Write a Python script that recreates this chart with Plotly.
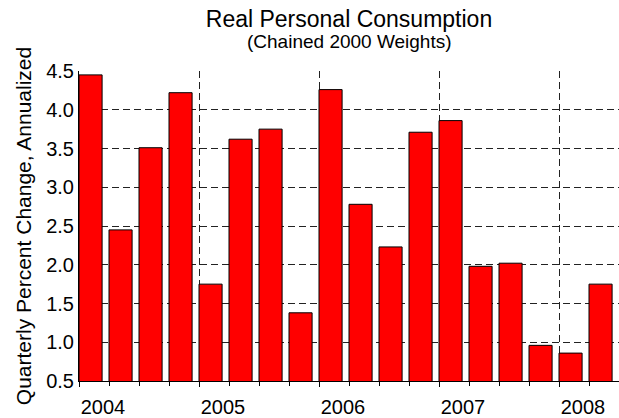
import plotly.graph_objects as go

# quarterly data, 2004Q1 - 2008Q2
quarters = ["2004Q1", "2004Q2", "2004Q3", "2004Q4",
            "2005Q1", "2005Q2", "2005Q3", "2005Q4",
            "2006Q1", "2006Q2", "2006Q3", "2006Q4",
            "2007Q1", "2007Q2", "2007Q3", "2007Q4",
            "2008Q1", "2008Q2"]
pct_change = [4.45, 2.45, 3.51, 4.22,
              1.75, 3.62, 3.75, 1.38,
              4.26, 2.78, 2.23, 3.71,
              3.86, 1.98, 2.02, 0.96,
              0.86, 1.75]
years = ["2004", "2005", "2006", "2007", "2008"]

font_family = "Liberation Sans, Arial, sans-serif"
grid_dash = "7px,4px"

x_pos = list(range(len(quarters)))
year_starts = [i for i, q in enumerate(quarters) if q.endswith("Q1")]

fig = go.Figure(go.Bar(
    x=x_pos, y=pct_change, width=0.77, offset=0,
    customdata=quarters,
    hovertemplate="%{customdata}: %{y:.2f}<extra></extra>",
    marker=dict(color="#FF0000", line=dict(color="black", width=1)),
))

fig.update_layout(
    width=619, height=418,
    margin=dict(l=79, r=0, t=71, b=28),
    paper_bgcolor="white", plot_bgcolor="white",
    font=dict(family=font_family, size=20, color="black"),
    showlegend=False,
    title=dict(text="Real Personal Consumption", x=0.5, xref="paper",
               y=1 - 19 / 418, yanchor="middle", font=dict(size=23)),
    annotations=[dict(text="(Chained 2000 Weights)", xref="paper", yref="paper",
                      x=0.5, y=1.094, yanchor="middle", showarrow=False,
                      font=dict(size=19))],
)

fig.update_xaxes(
    range=[0, len(quarters)],
    tickvals=year_starts, ticktext=years,
    ticks="outside", ticklen=5, tickcolor="black",
    ticklabelshift=24, ticklabelstandoff=3,
    showgrid=True, gridcolor="#222", griddash=grid_dash, gridwidth=1,
    showline=True, linecolor="black", linewidth=1,
    zeroline=False,
    minor=dict(dtick=1, tick0=0, ticks="outside", ticklen=4,
               tickcolor="black", showgrid=False),
)
fig.update_yaxes(
    range=[0.5, 4.5], tick0=0.5, dtick=0.5, tickformat=".1f",
    showgrid=True, gridcolor="#222", griddash=grid_dash, gridwidth=1,
    showline=True, linecolor="black", linewidth=1,
    zeroline=False, ticks="",
    title=dict(text="Quarterly Percent Change, Annualized", standoff=8,
               font=dict(size=21)),
)

# drop the default 8px body margin so the chart sits at the page corner
fig.write_html("out.html", config={"displayModeBar": False},
               post_script="document.body.style.margin = '0';")
